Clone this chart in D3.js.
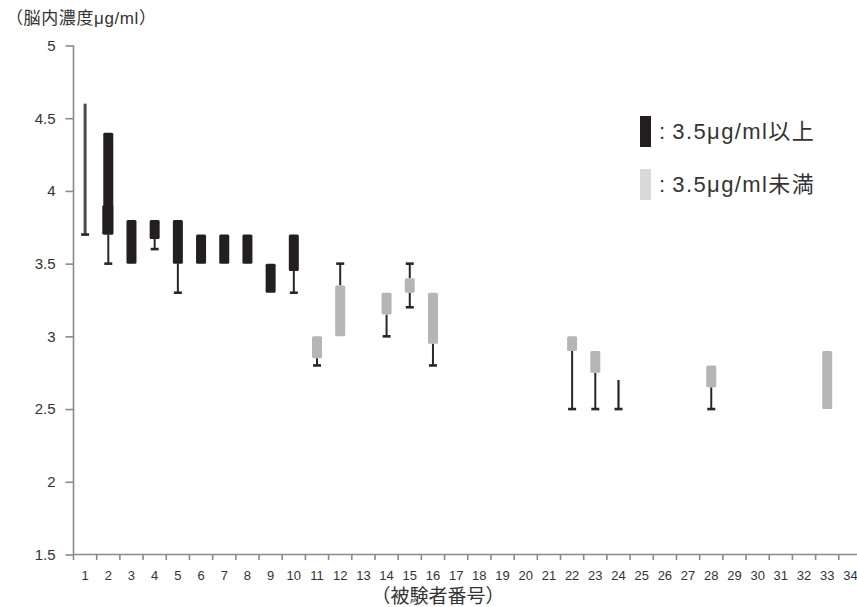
<!DOCTYPE html>
<html><head><meta charset="utf-8">
<script src="https://cdn.jsdelivr.net/npm/d3@7"></script>
<style>
body{margin:0;background:#fff;}
text{font-family:"Liberation Sans","Noto Sans CJK JP",sans-serif;}
</style></head>
<body><svg id="chart" width="857" height="607"></svg>
<script>
// ---- data ----
const categories = d3.range(1, 35).map(String);
const yTicks = [1.5, 2, 2.5, 3, 3.5, 4, 4.5, 5];
const ids        = ["1","2","3","4","5","6","7","8","9","10","11","12","14","15","16","22","23","24","28","33"];
const groups     = ["high","high","high","high","high","high","high","high","high","high","low","low","low","low","low","low","low","low","low","low"];
const boxLow     = [null,3.7,3.5,3.67,3.5,3.5,3.5,3.5,3.3,3.45,2.85,3.0,3.15,3.3,2.95,2.9,2.75,null,2.65,2.5];
const boxMid     = [null,3.9,null,null,null,null,null,null,null,null,null,null,null,null,null,null,null,null,null,null];
const boxHigh    = [null,4.4,3.8,3.8,3.8,3.7,3.7,3.7,3.5,3.7,3.0,3.35,3.3,3.4,3.3,3.0,2.9,null,2.8,2.9];
const whiskerLow = [3.7,3.5,null,3.6,3.3,null,null,null,null,3.3,2.8,null,3.0,3.2,2.8,2.5,2.5,2.5,2.5,null];
const whiskerHigh= [4.6,null,null,null,null,null,null,null,null,null,null,3.5,null,3.5,null,null,null,2.7,null,null];
const legendLabels = [":\u20093.5μg/ml以上", ":\u20093.5μg/ml未満"];

const colors = {high:"#231f20", low:"#b5b5b7"};
const legendColors = ["#231f20", "#d9d9d9"];

const svg = d3.select("#chart");
const x = d3.scaleBand().domain(categories).range([73.5, 862]).paddingInner(0).paddingOuter(0);
const y = d3.scaleLinear().domain([1.5, 5]).range([554.5, 45.5]);

// axes
const axisColor = "#8a8a8a";
const yAxis = svg.append("g").attr("transform","translate(73.5,0)")
  .call(d3.axisLeft(y).tickValues(yTicks).tickSize(8).tickPadding(10).tickFormat(d3.format("")));
yAxis.select(".domain").attr("stroke", axisColor).attr("stroke-width",1.6).attr("d","M0,45.5V554.5");
yAxis.selectAll(".tick line").attr("stroke", axisColor).attr("stroke-width",1.6);
yAxis.selectAll(".tick text").attr("fill","#333").style("font-size","15px");

const xAxis = svg.append("g").attr("transform","translate(0,554.5)")
  .call(d3.axisBottom(x).tickSize(0).tickPadding(16));
xAxis.select(".domain").attr("stroke", axisColor).attr("stroke-width",1.6).attr("d","M73.5,0H857");
xAxis.selectAll(".tick text").attr("fill","#333").style("font-size","13px");
// boundary ticks
svg.append("g").selectAll("line").data(categories).join("line")
  .attr("x1", d => x(d) + x.bandwidth()).attr("x2", d => x(d) + x.bandwidth())
  .attr("y1", 554.5).attr("y2", 560).attr("stroke", axisColor).attr("stroke-width",1.6);
svg.append("line").attr("x1",73.5).attr("x2",73.5).attr("y1",554.5).attr("y2",560).attr("stroke",axisColor).attr("stroke-width",1.6);

// titles
svg.append("text").attr("x",6).attr("y",24).attr("fill","#333").style("font-size","17px").style("letter-spacing","0.6px").text("（脳内濃度μg/ml）");
svg.append("text").attr("x",438).attr("y",603).attr("text-anchor","middle").attr("fill","#333").style("font-size","19px").text("（被験者番号）");

// marks
const rows = ids.map((id,i)=>({id, g:groups[i], bl:boxLow[i], bm:boxMid[i], bh:boxHigh[i], wl:whiskerLow[i], wh:whiskerHigh[i]}));
const cx = d => x(d.id) + x.bandwidth()/2;
const bw = 10, capW = 8;
const wColor = "#2a2627";

const wg = svg.append("g");
rows.forEach(d => {
  const c = cx(d);
  if (d.bl === null) {
    wg.append("line").attr("x1",c).attr("x2",c).attr("y1",y(d.wl)).attr("y2",y(d.wh))
      .attr("stroke", d.id==="1" ? "#4a4a4a" : wColor).attr("stroke-width", d.id==="1" ? 3 : 2.2);
    wg.append("line").attr("x1",c-capW/2).attr("x2",c+capW/2).attr("y1",y(d.wl)).attr("y2",y(d.wl))
      .attr("stroke", wColor).attr("stroke-width",2.6);
    return;
  }
  if (d.wl !== null) {
    wg.append("line").attr("x1",c).attr("x2",c).attr("y1",y(d.bl)).attr("y2",y(d.wl)).attr("stroke",wColor).attr("stroke-width",2);
    wg.append("line").attr("x1",c-capW/2).attr("x2",c+capW/2).attr("y1",y(d.wl)).attr("y2",y(d.wl)).attr("stroke",wColor).attr("stroke-width",2.6);
  }
  if (d.wh !== null) {
    wg.append("line").attr("x1",c).attr("x2",c).attr("y1",y(d.bh)).attr("y2",y(d.wh)).attr("stroke",wColor).attr("stroke-width",2);
    wg.append("line").attr("x1",c-capW/2).attr("x2",c+capW/2).attr("y1",y(d.wh)).attr("y2",y(d.wh)).attr("stroke",wColor).attr("stroke-width",2.6);
  }
});

const bg = svg.append("g");
rows.filter(d => d.bl !== null).forEach(d => {
  const c = cx(d);
  bg.append("rect").attr("x", c-bw/2).attr("width", bw)
    .attr("y", y(d.bh)).attr("height", y(d.bl)-y(d.bh))
    .attr("rx",1.5).attr("fill", colors[d.g]);
  if (d.bm !== null) {
    bg.append("rect").attr("x", c-bw/2-1).attr("width", bw+1)
      .attr("y", y(d.bm)).attr("height", y(d.bl)-y(d.bm))
      .attr("rx",1).attr("fill", colors[d.g]);
  }
});

// legend
const lg = svg.append("g");
legendLabels.forEach((t,i) => {
  const yy = 116 + i*53;
  lg.append("rect").attr("x",640).attr("y",yy).attr("width",11).attr("height",31).attr("fill",legendColors[i]);
  lg.append("text").attr("x",659).attr("y",yy+23).attr("fill","#333").style("font-size","22px").style("letter-spacing","1.4px").text(t);
});
</script></body></html>
